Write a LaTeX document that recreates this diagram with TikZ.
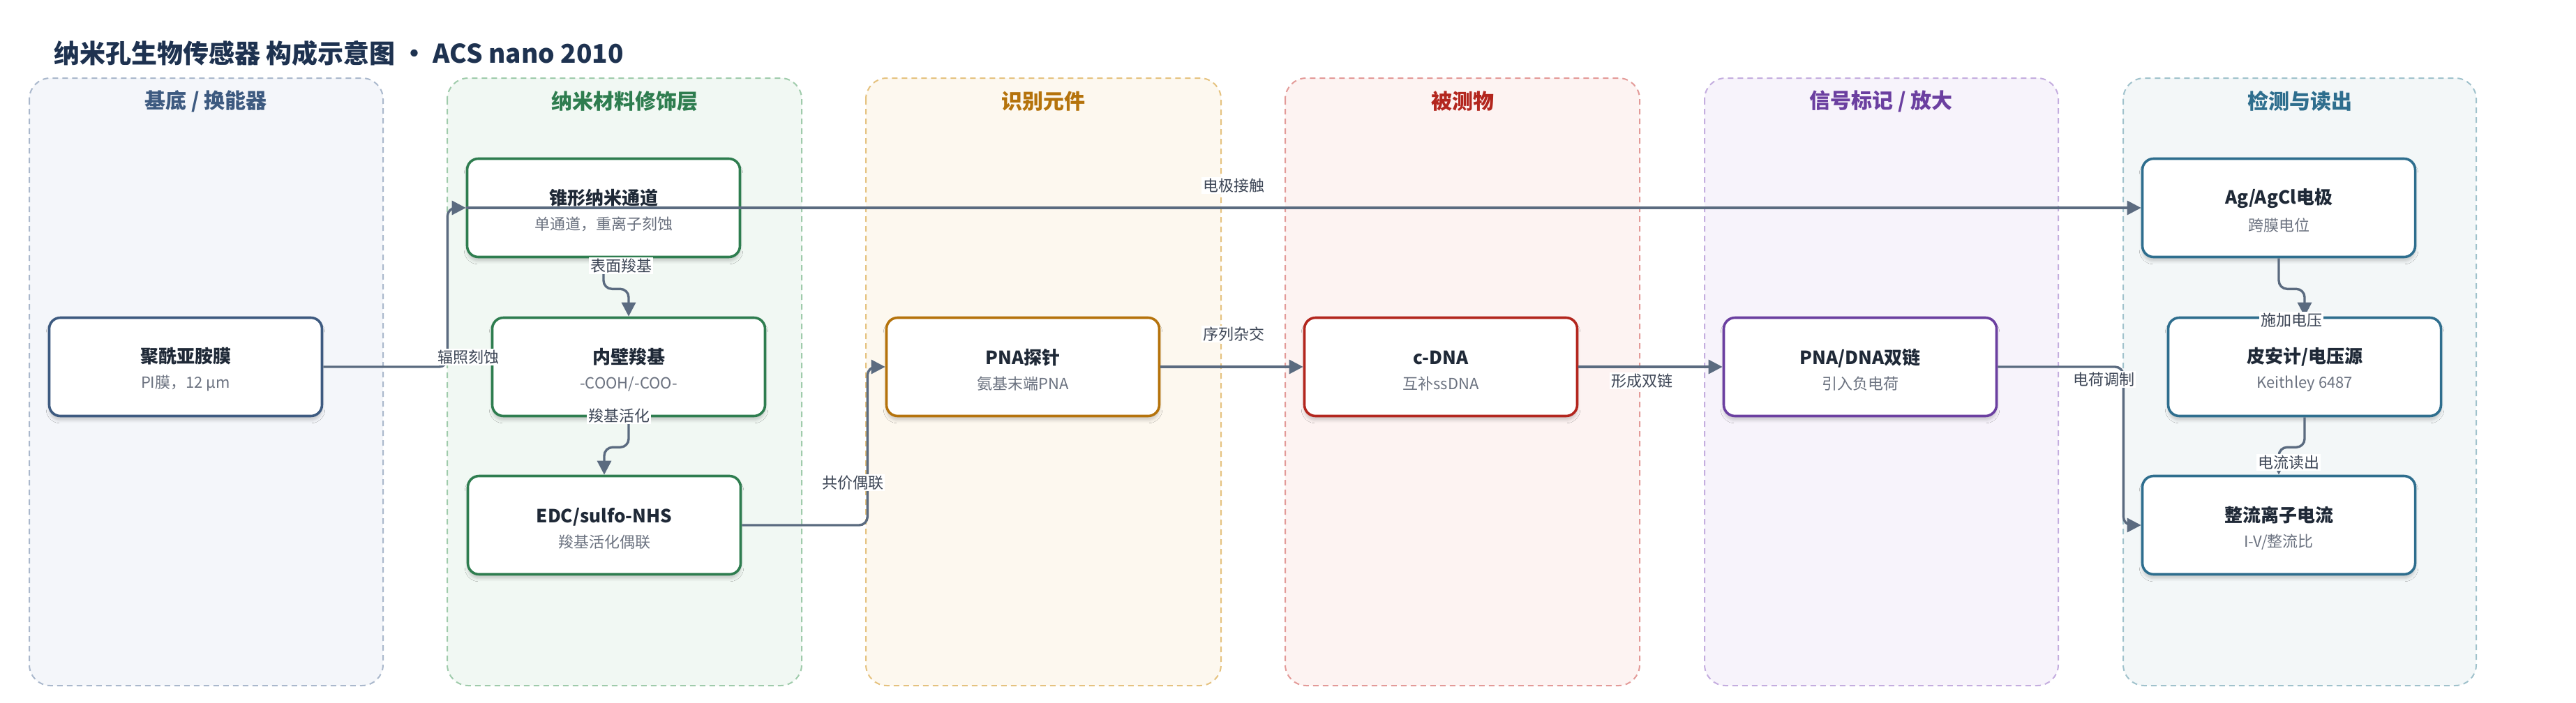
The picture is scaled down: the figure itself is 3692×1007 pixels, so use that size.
\documentclass[tikz,border=0pt]{standalone}
\usepackage{fontspec}
\setmainfont{Noto Sans CJK SC}
\usetikzlibrary{arrows.meta,shadows.blur}

\definecolor{edgegray}{HTML}{5B6B80}
\definecolor{tagtext}{HTML}{3D4656}
\definecolor{boxtext}{HTML}{1F2937}
\definecolor{subtext}{HTML}{6B7280}
\definecolor{headtext}{HTML}{1E3250}
% lane colours: line, fill, border
\definecolor{subA}{HTML}{3D5A80}\definecolor{subAfill}{HTML}{F4F6FA}\definecolor{subAline}{HTML}{AAB8CC}
\definecolor{nanoB}{HTML}{2E7D4F}\definecolor{nanoBfill}{HTML}{F1F8F3}\definecolor{nanoBline}{HTML}{9FCBAB}
\definecolor{recC}{HTML}{B5730C}\definecolor{recCfill}{HTML}{FDF8EF}\definecolor{recCline}{HTML}{E5C27F}
\definecolor{anaD}{HTML}{B3261E}\definecolor{anaDfill}{HTML}{FDF3F2}\definecolor{anaDline}{HTML}{E39A98}
\definecolor{sigE}{HTML}{6B3FA0}\definecolor{sigEfill}{HTML}{F7F3FB}\definecolor{sigEline}{HTML}{C4ADDF}
\definecolor{readF}{HTML}{2E6E8E}\definecolor{readFfill}{HTML}{F3F7F8}\definecolor{readFline}{HTML}{A0C2CC}

\def\boxlines#1#2{\fontsize{13pt}{17pt}\selectfont\rule{0pt}{15pt}\textbf{#1}\\[6pt]\fontsize{11pt}{17pt}\selectfont\textcolor{subtext}{#2}}

\tikzset{
  lane/.style={dash pattern=on 4pt off 3pt, line width=1pt, rounded corners=15pt},
  lanehead/.style={font=\fontsize{15pt}{18pt}\selectfont\bfseries, inner sep=0pt},
  box/.style={draw=#1, line width=1.8pt, fill=white, rounded corners=8pt,
    minimum width=195.5pt, minimum height=70.5pt, align=center, text=boxtext,
    blur shadow={shadow xshift=0pt, shadow yshift=-3pt, shadow blur steps=6, shadow opacity=18}},
  flow/.style={draw=edgegray, line width=1.7pt, rounded corners=6pt,
    -{Triangle[length=10pt,width=10pt]}},
  tag/.style={fill=white, inner sep=1pt, text=tagtext, font=\fontsize{11pt}{13pt}\selectfont},
}

\begin{document}
\begin{tikzpicture}[x=0.5pt,y=-0.5pt]
		%%%%% START %%%%%
		\useasboundingbox (0,0) rectangle (3692,1007);
		
		\node[anchor=west, text=headtext, font=\fontsize{18.5pt}{22pt}\selectfont\bfseries, inner sep=0pt] (head) at (77,76) {纳米孔生物传感器 构成示意图 · ACS nano 2010};
		
		% lanes
		\draw[lane, draw=subAline, fill=subAfill] (42,112) rectangle (549,983);
		\draw[lane, draw=nanoBline, fill=nanoBfill] (641,112) rectangle (1149,983);
		\draw[lane, draw=recCline, fill=recCfill] (1241,112) rectangle (1750,983);
		\draw[lane, draw=anaDline, fill=anaDfill] (1842,112) rectangle (2350,983);
		\draw[lane, draw=sigEline, fill=sigEfill] (2443,112) rectangle (2950,983);
		\draw[lane, draw=readFline, fill=readFfill] (3043,112) rectangle (3549,983);
		
		\node[lanehead, text=subA] (hA) at (295,145) {基底 / 换能器};
		\node[lanehead, text=nanoB] (hB) at (895,145) {纳米材料修饰层};
		\node[lanehead, text=recC] (hC) at (1495,145) {识别元件};
		\node[lanehead, text=anaD] (hD) at (2096,145) {被测物};
		\node[lanehead, text=sigE] (hE) at (2696,145) {信号标记 / 放大};
		\node[lanehead, text=readF] (hF) at (3296,145) {检测与读出};
		
		% boxes
		\node[box=subA] (pi) at (266,526) {\boxlines{聚酰亚胺膜}{PI膜，12 μm}};
		\node[box=nanoB] (chan) at (865,298) {\boxlines{锥形纳米通道}{单通道，重离子刻蚀}};
		\node[box=nanoB] (wall) at (901,526) {\boxlines{内壁羧基}{-COOH/-COO-}};
		\node[box=nanoB] (edc) at (866,753) {\boxlines{EDC/sulfo-NHS}{羧基活化偶联}};
		\node[box=recC] (pna) at (1466,526) {\boxlines{PNA探针}{氨基末端PNA}};
		\node[box=anaD] (cdna) at (2065,526) {\boxlines{c-DNA}{互补ssDNA}};
		\node[box=sigE] (duplex) at (2666,526) {\boxlines{PNA/DNA双链}{引入负电荷}};
		\node[box=readF] (agcl) at (3266,298) {\boxlines{Ag/AgCl电极}{跨膜电位}};
		\node[box=readF] (meter) at (3303,526) {\boxlines{皮安计/电压源}{Keithley 6487}};
		\node[box=readF] (curr) at (3266,753) {\boxlines{整流离子电流}{I-V/整流比}};
		
		% connectors
		\draw[flow] (pi.east) -- ++(178,0) |- (chan.west);
		\draw[flow] (chan.west) -- (agcl.west);
		\draw[flow] (chan.south) -- ++(0,44) -| (wall.north);
		\draw[flow] (wall.south) -- ++(0,43) -| (edc.north);
		\draw[flow] (edc.east) -- ++(180,0) |- (pna.west);
		\draw[flow] (pna.east) -- (cdna.west);
		\draw[flow] (cdna.east) -- (duplex.west);
		\draw[flow] (duplex.east) -- ++(180,0) |- (curr.west);
		\draw[flow] (agcl.south) -- ++(0,44) -| (meter.north);
		\draw[flow] (meter.south) -- ++(0,43) -| (curr.north);
		
		% connector labels
		\node[tag] (t1) at (671,512) {辐照刻蚀};
		\node[tag] (t2) at (1768,266) {电极接触};
		\node[tag] (t3) at (890,381) {表面羧基};
		\node[tag] (t4) at (887,596) {羧基活化};
		\node[tag] (t5) at (1222,692) {共价偶联};
		\node[tag] (t6) at (1768,479) {序列杂交};
		\node[tag] (t7) at (2353,546) {形成双链};
		\node[tag] (t8) at (3015,544) {电荷调制};
		\node[tag] (t9) at (3284,459) {施加电压};
		\node[tag] (t10) at (3280,663) {电流读出};
		
		%%%%% END %%%%%
\end{tikzpicture}
\end{document}
